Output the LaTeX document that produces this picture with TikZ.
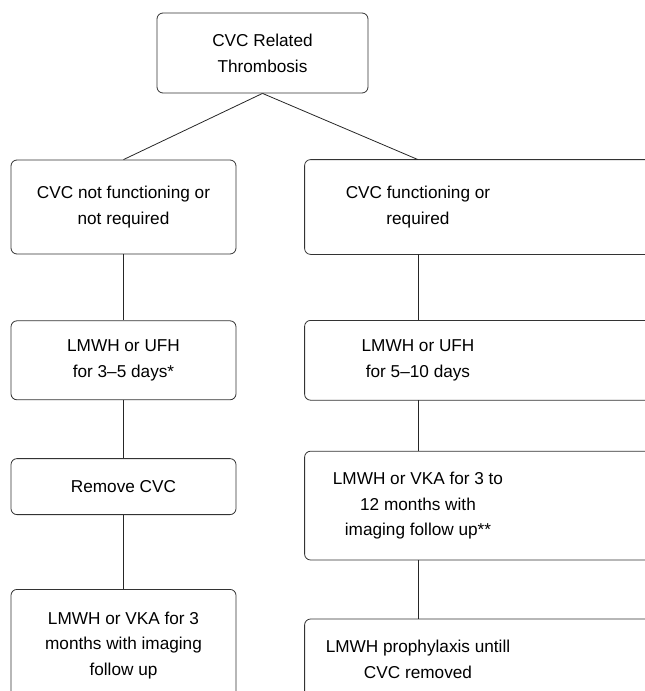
\documentclass[tikz,border=0pt]{standalone}
\usepackage{fontspec}
\setmainfont{Liberation Sans}
\usetikzlibrary{positioning}

\begin{document}
\begin{tikzpicture}[
  node distance=66pt,
  kasten/.style={rectangle, draw=black!80, rounded corners=6pt, line width=0.8pt,
    minimum width=225pt, inner sep=0pt, align=center,
    font=\fontsize{17.2}{25.8}\selectfont},
  offen/.style={kasten, draw=none},
  rahmen/.style={draw=black!80, rounded corners=6pt, line width=0.8pt},
  linie/.style={draw=black!85, line width=0.8pt}
]
  \useasboundingbox (0,0) rectangle (645pt,-691pt);

  \node[kasten, minimum width=211pt, minimum height=80pt] (thrombose) at (262.5pt,-53pt) {CVC Related\\Thrombosis};

  % linke Spalte
  \node[kasten, minimum height=94pt] (nichtfkt) at (123.5pt,-207pt) {CVC not functioning or\\not required};
  \node[kasten, minimum height=79pt, below=66pt of nichtfkt] (kurz) {LMWH or UFH\\for 3--5 days*};
  \node[kasten, minimum height=56pt, below=58pt of kurz] (entfernen) {Remove CVC};
  \node[kasten, minimum height=112pt, below=74pt of entfernen] (dreimonate) {LMWH or VKA for 3\\months with imaging\\follow up};

  % rechte Spalte (Kästen laufen rechts aus dem Bild)
  \node[offen, minimum width=226pt, minimum height=94pt] (fkt) at (418pt,-207pt) {CVC functioning or\\required};
  \node[offen, minimum width=226pt, minimum height=79pt, below=66pt of fkt] (lang) {LMWH or UFH\\for 5--10 days};
  \node[offen, minimum width=226pt, minimum height=108pt, below=51pt of lang] (zwoelf) {LMWH or VKA for 3 to\\12 months with\\imaging follow up**};
  \node[offen, minimum width=226pt, minimum height=80pt, below=59pt of zwoelf] (prophylaxe) {LMWH prophylaxis untill\\CVC removed};

  \foreach \n in {fkt, lang, zwoelf}
    \draw[rahmen] (\n.north west) rectangle ([xshift=150pt]\n.south east);
  \draw[rahmen] (prophylaxe.north west) rectangle ([xshift=150pt, yshift=-20pt]prophylaxe.south east);

  \draw[linie] (thrombose.south) -- (nichtfkt.north);
  \draw[linie] (thrombose.south) -- (fkt.north);
  \draw[linie] (nichtfkt) -- (kurz);
  \draw[linie] (kurz) -- (entfernen);
  \draw[linie] (entfernen) -- (dreimonate);
  \draw[linie] (fkt) -- (lang);
  \draw[linie] (lang) -- (zwoelf);
  \draw[linie] (zwoelf) -- (prophylaxe);
\end{tikzpicture}
\end{document}
